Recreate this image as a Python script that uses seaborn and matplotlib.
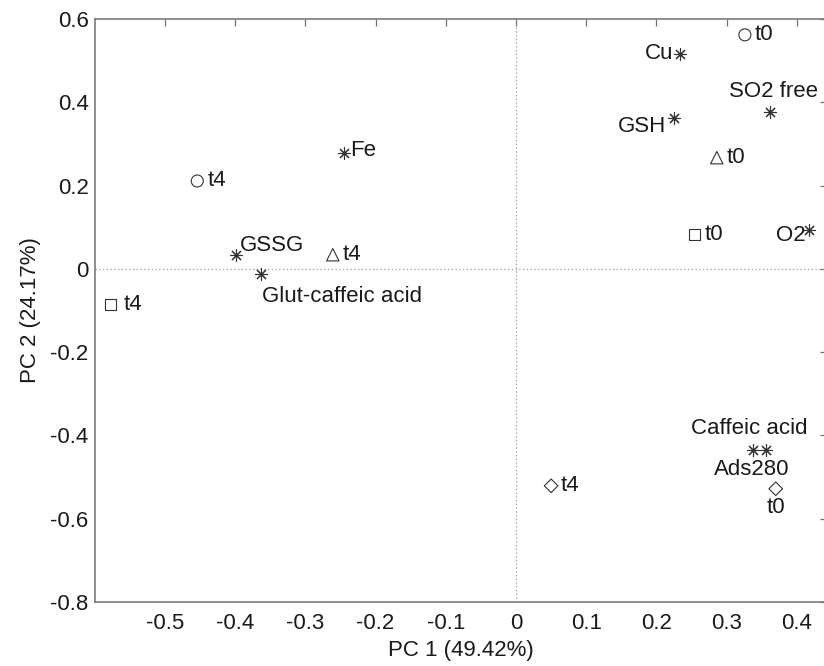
import numpy as np
import pandas as pd
import matplotlib
matplotlib.use("Agg")
import matplotlib.pyplot as plt
import seaborn as sns

# PCA scores of the samples (t0 / t4) for each series
sample_labels = ["t0", "t4", "t0", "t4", "t0", "t4", "t0", "t4"]
sample_series = ["circle", "circle", "triangle", "triangle",
                 "square", "square", "diamond", "diamond"]
sample_pc1 = [0.326, -0.454, 0.286, -0.261, 0.254, -0.577, 0.370, 0.050]
sample_pc2 = [0.562, 0.211, 0.267, 0.034, 0.082, -0.086, -0.528, -0.521]

# loadings of the measured variables
var_names = ["Cu", "SO2 free", "GSH", "O2", "Fe", "GSSG",
             "Glut-caffeic acid", "Caffeic acid", "Ads280"]
var_pc1 = [0.234, 0.362, 0.225, 0.417, -0.245, -0.399, -0.363, 0.338, 0.356]
var_pc2 = [0.516, 0.377, 0.363, 0.094, 0.279, 0.034, -0.012, -0.435, -0.435]

x_label = "PC 1 (49.42%)"
y_label = "PC 2 (24.17%)"

# marker shapes and sizes per series
series_markers = {"circle": "o", "triangle": "^", "square": "s", "diamond": "D"}
series_sizes = {"circle": 75, "triangle": 80, "square": 62, "diamond": 48}

# label placement: (dx px, dy px, ha, va)
sample_label_pos = {
    ("circle", "t0"): (10, 0, "left", "center"),
    ("circle", "t4"): (10, 0, "left", "center"),
    ("triangle", "t0"): (10, 0, "left", "center"),
    ("triangle", "t4"): (10, 0, "left", "center"),
    ("square", "t0"): (10, 0, "left", "center"),
    ("square", "t4"): (13, 0, "left", "center"),
    ("diamond", "t0"): (0, -19, "center", "center"),
    ("diamond", "t4"): (10, 0, "left", "center"),
}
var_label_pos = {
    "Cu": (-7, 0, "right", "center"),
    "SO2 free": (3, 20, "center", "center"),
    "GSH": (-8, -9, "right", "center"),
    "O2": (-3, -6, "right", "center"),
    "Fe": (6, 2, "left", "center"),
    "GSSG": (4, 9, "left", "center"),
    "Glut-caffeic acid": (1, -23, "left", "center"),
    "Caffeic acid": (-4, 22, "center", "center"),
    "Ads280": (-14, -19, "center", "center"),
}

samples = pd.DataFrame({"pc1": sample_pc1, "pc2": sample_pc2,
                        "series": sample_series, "label": sample_labels})
variables = pd.DataFrame({"pc1": var_pc1, "pc2": var_pc2, "name": var_names})

sns.set_theme(style="white")
plt.rcParams["font.family"] = ["Liberation Sans", "DejaVu Sans"]
plt.rcParams["axes.unicode_minus"] = False

ink = "#1a1a1a"
frame = "#707070"
fs = 16

W, H = 824, 666
fig = plt.figure(figsize=(W / 100, H / 100), dpi=100)
fig.patch.set_facecolor("white")
ax = fig.add_axes([94.8 / W, 64 / H, 732.2 / W, 583 / H])

# dotted zero lines
ax.axhline(0, color="#9a9a9a", lw=0.9, ls=(0, (1, 2)), zorder=1)
ax.axvline(0, color="#9a9a9a", lw=0.9, ls=(0, (1, 2)), zorder=1)

# open markers for the samples
sns.scatterplot(data=samples, x="pc1", y="pc2", style="series",
                markers=series_markers, s=70, color=ink,
                legend=False, ax=ax, zorder=3)
coll = ax.collections[-1]
coll.set_facecolor("none")
coll.set_edgecolor("#333333")
coll.set_linewidth(0.8)
coll.set_sizes([series_sizes[s] for s in samples["series"]])

# asterisks for the variables
sns.scatterplot(data=variables, x="pc1", y="pc2", marker=(8, 2, 0),
                s=75, color="#333333", legend=False, ax=ax, zorder=3)
coll = ax.collections[-1]
coll.set_edgecolor("#333333")
coll.set_linewidth(0.8)

for _, r in samples.iterrows():
    dx, dy, ha, va = sample_label_pos[(r["series"], r["label"])]
    ax.annotate(r["label"], (r["pc1"], r["pc2"]), xytext=(dx, dy),
                textcoords="offset pixels", ha=ha, va=va,
                fontsize=fs, color=ink)

for _, r in variables.iterrows():
    dx, dy, ha, va = var_label_pos[r["name"]]
    ax.annotate(r["name"], (r["pc1"], r["pc2"]), xytext=(dx, dy),
                textcoords="offset pixels", ha=ha, va=va,
                fontsize=fs, color=ink)

ax.set_xlim(-0.6, 0.443)
ax.set_ylim(-0.8, 0.6)
xt = np.round(np.arange(-0.5, 0.41, 0.1), 1)
yt = np.round(np.arange(-0.8, 0.61, 0.2), 1)
fmt = lambda v: "0" if abs(v) < 1e-9 else f"{v:g}"
ax.set_xticks(xt)
ax.set_xticklabels([fmt(v) for v in xt])
ax.set_yticks(yt)
ax.set_yticklabels([fmt(v) for v in yt])

ax.tick_params(axis="both", direction="in", length=5, width=0.9,
               color=frame, labelcolor=ink, labelsize=fs,
               top=True, right=True)
ax.tick_params(axis="x", pad=8)
ax.tick_params(axis="y", pad=4.5)
for sp in ax.spines.values():
    sp.set_color(frame)
    sp.set_linewidth(1.1)
    sp.set_visible(True)

ax.set_xlabel(x_label, fontsize=fs, color=ink, labelpad=4)
ax.set_ylabel(y_label, fontsize=fs, color=ink, labelpad=7)
ax.grid(False)

fig.savefig("out.png", dpi=100, facecolor="white")
